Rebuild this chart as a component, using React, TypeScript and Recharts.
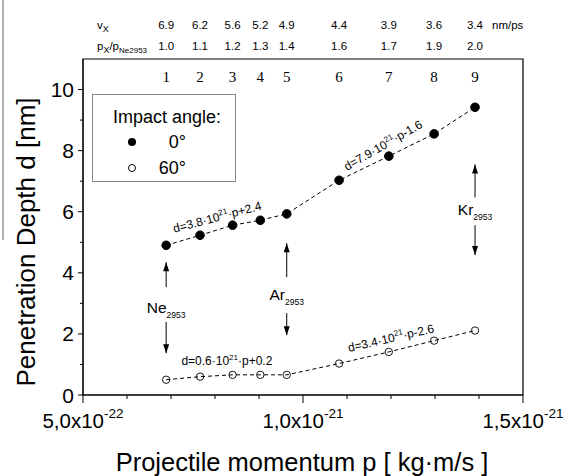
import React from 'react';
import {
  LineChart,
  Line,
  XAxis,
  YAxis,
  ReferenceArea,
  ReferenceDot,
  ReferenceLine,
  Legend,
} from 'recharts';

const SANS = '"Liberation Sans", Arial, sans-serif';
const SERIF = '"Liberation Serif", "Times New Roman", serif';

// measured points (momentum in kg·m/s, depth in nm)
const momentum = [6.89e-22, 7.66e-22, 8.4e-22, 9.03e-22, 9.63e-22, 1.082e-21, 1.195e-21, 1.298e-21, 1.391e-21];
const depth0 = [4.9, 5.23, 5.56, 5.72, 5.93, 7.03, 7.82, 8.55, 9.42];
const depth60 = [0.5, 0.6, 0.66, 0.66, 0.66, 1.03, 1.41, 1.78, 2.11];

// header rows above the plot
const indexLabels = ['1', '2', '3', '4', '5', '6', '7', '8', '9'];
const velocity = ['6.9', '6.2', '5.6', '5.2', '4.9', '4.4', '3.9', '3.6', '3.4'];
const momentumRatio = ['1.0', '1.1', '1.2', '1.3', '1.4', '1.6', '1.7', '1.9', '2.0'];

// axes
const xTicks = [5e-22, 6e-22, 7e-22, 8e-22, 9e-22, 1e-21, 1.1e-21, 1.2e-21, 1.3e-21, 1.4e-21, 1.5e-21];
const xMajorMantissa = ['5,0x10', '1,0x10', '1,5x10'];
const xMajorExponent = ['-22', '-21', '-21'];
const yTicks = [0, 1, 2, 3, 4, 5, 6, 7, 8, 9, 10];
const yMax = 11;

// legend
const legendTitle = 'Impact angle:';
const legendItems = ['0°', '60°'];

// cluster annotations
const ions = ['Ne', 'Ar', 'Kr'];
const ionSize = '2953';
const ionMomentum = [6.89e-22, 9.63e-22, 1.391e-21];
const ionLabelDepth = [2.84, 3.27, 6.05];
const ionUpTip = [4.35, 4.97, 7.55];
const ionUpTail = [3.53, 3.86, 6.47];
const ionDownTail = [2.39, 2.68, 5.56];
const ionDownTip = [1.37, 1.96, 4.58];

// fit equations
const eqSlope = ['3.8', '7.9', '0.6', '3.4'];
const eqOffset = ['+2.4', '-1.6', '+0.2', '-2.6'];
const eqMomentum = [8.05e-22, 1.182e-21, 8.27e-22, 1.2e-21];
const eqDepth = [5.82, 8.17, 1.11, 1.86];
const eqAngle = [-15, -30, 0, -13];

const data0 = momentum.map((p, i) => ({ p, d: depth0[i] }));
const data60 = momentum.map((p, i) => ({ p, d: depth60[i] }));

const BottomTick = (props: any) => {
  const { x, y, index } = props;
  const major = index % 5 === 0;
  const k = index / 5;
  return (
    <g>
      <line x1={x} x2={x} y1={y} y2={y + (major ? 8 : 4)} stroke="#000" strokeWidth={1} />
      {major && (
        <text x={x} y={y + 33} textAnchor="middle" fontFamily={SANS} fontSize={20.5} fill="#000">
          <tspan>{xMajorMantissa[k]}</tspan>
          <tspan dy={-10} fontSize={13.5}>{xMajorExponent[k]}</tspan>
        </text>
      )}
    </g>
  );
};

const LeftTick = (props: any) => {
  const { x, y, payload } = props;
  const major = payload.value % 2 === 0;
  return (
    <g>
      <line x1={x} x2={x - (major ? 5 : 3)} y1={y} y2={y} stroke="#000" strokeWidth={1} />
      {major && (
        <text x={x - 9} y={y + 7.5} textAnchor="end" fontFamily={SANS} fontSize={21} fill="#000">
          {payload.value}
        </text>
      )}
    </g>
  );
};

// header labels above each cluster column, anchored at the top edge of the plot
const headerShape = (i: number) => (props: any) => {
  const { cx, cy } = props;
  return (
    <g fill="#000">
      <text x={cx} y={cy - 30} textAnchor="middle" fontFamily={SANS} fontSize={11.5}>{velocity[i]}</text>
      <text x={cx} y={cy - 9} textAnchor="middle" fontFamily={SANS} fontSize={11.5}>{momentumRatio[i]}</text>
      <text x={cx} y={cy + 23} textAnchor="middle" fontFamily={SERIF} fontSize={15}>{indexLabels[i]}</text>
    </g>
  );
};

const LegendBox = () => (
  <svg width={144} height={88} style={{ display: 'block' }}>
    <rect x={0.5} y={0.5} width={143} height={87} fill="#fff" stroke="#888" />
    <text x={21} y={29} fontFamily={SANS} fontSize={18} fill="#000">{legendTitle}</text>
    <circle cx={40} cy={48} r={4} fill="#000" />
    <text x={94} y={54} textAnchor="end" fontFamily={SANS} fontSize={18} fill="#000">{legendItems[0]}</text>
    <circle cx={40} cy={74} r={3.5} fill="#fff" stroke="#000" />
    <text x={94} y={80} textAnchor="end" fontFamily={SANS} fontSize={18} fill="#000">{legendItems[1]}</text>
  </svg>
);

const ionLabelShape = (i: number) => (props: any) => (
  <text x={props.cx} y={props.cy + 5} textAnchor="middle" fontFamily={SANS} fontSize={15.5} fill="#000">
    <tspan>{ions[i]}</tspan>
    <tspan dy={5} fontSize={8.5}>{ionSize}</tspan>
  </text>
);

const arrowHead = (up: boolean) => (props: any) => {
  const { cx, cy } = props;
  const s = up ? 1 : -1;
  return <polygon points={`${cx},${cy} ${cx - 3},${cy + 9 * s} ${cx + 3},${cy + 9 * s}`} fill="#000" />;
};

const eqShape = (i: number) => (props: any) => {
  const { cx, cy } = props;
  return (
    <text
      x={cx}
      y={cy + 4}
      textAnchor="middle"
      fontFamily={SANS}
      fontSize={12}
      fill="#000"
      transform={`rotate(${eqAngle[i]}, ${cx}, ${cy})`}
    >
      <tspan>{`d=${eqSlope[i]}·10`}</tspan>
      <tspan dy={-5} fontSize={8}>21</tspan>
      <tspan dy={5}>{`·p${eqOffset[i]}`}</tspan>
    </text>
  );
};

export default function App() {
  return (
    <div style={{ position: 'absolute', left: 0, top: 0, width: 568, height: 476, background: '#fff' }}>
      <LineChart width={568} height={476} margin={{ top: 59, right: 45, left: 0, bottom: 0 }}>
        <XAxis
          dataKey="p"
          type="number"
          domain={[5e-22, 1.5e-21]}
          ticks={xTicks}
          interval={0}
          allowDataOverflow
          height={81}
          tickSize={0}
          tickMargin={0}
          tickLine={false}
          axisLine={{ stroke: '#000' }}
          tick={BottomTick}
        />
        <YAxis
          type="number"
          domain={[0, yMax]}
          ticks={yTicks}
          interval={0}
          allowDataOverflow
          width={83}
          tickSize={0}
          tickMargin={0}
          tickLine={false}
          axisLine={{ stroke: '#000' }}
          tick={LeftTick}
        />
        <ReferenceArea x1={5e-22} x2={1.5e-21} y1={0} y2={yMax} fill="none" stroke="#000" strokeWidth={1.2} />
        <Legend
          layout="vertical"
          align="center"
          verticalAlign="middle"
          content={LegendBox}
          wrapperStyle={{ left: 92, top: 94, width: 144, height: 88 }}
        />
        <Line
          data={data0}
          dataKey="d"
          type="linear"
          stroke="#000"
          strokeWidth={1}
          strokeDasharray="4 3"
          dot={{ r: 4.3, fill: '#000', stroke: '#000', strokeWidth: 1, strokeDasharray: '' }}
          isAnimationActive={false}
        />
        <Line
          data={data60}
          dataKey="d"
          type="linear"
          stroke="#000"
          strokeWidth={1}
          strokeDasharray="4 3"
          dot={{ r: 3.7, fill: 'none', stroke: '#000', strokeWidth: 0.9, strokeDasharray: '' }}
          isAnimationActive={false}
        />
        {momentum.map((p, i) => (
          <ReferenceDot key={`hdr-${i}`} x={p} y={yMax} ifOverflow="visible" shape={headerShape(i)} />
        ))}
        {ions.map((name, i) => (
          <ReferenceLine
            key={`up-${name}`}
            segment={[{ x: ionMomentum[i], y: ionUpTail[i] }, { x: ionMomentum[i], y: ionUpTip[i] }]}
            stroke="#000"
            strokeWidth={1}
          />
        ))}
        {ions.map((name, i) => (
          <ReferenceLine
            key={`down-${name}`}
            segment={[{ x: ionMomentum[i], y: ionDownTail[i] }, { x: ionMomentum[i], y: ionDownTip[i] }]}
            stroke="#000"
            strokeWidth={1}
          />
        ))}
        {ions.map((name, i) => (
          <ReferenceDot key={`uh-${name}`} x={ionMomentum[i]} y={ionUpTip[i]} shape={arrowHead(true)} />
        ))}
        {ions.map((name, i) => (
          <ReferenceDot key={`dh-${name}`} x={ionMomentum[i]} y={ionDownTip[i]} shape={arrowHead(false)} />
        ))}
        {ions.map((name, i) => (
          <ReferenceDot key={`lbl-${name}`} x={ionMomentum[i]} y={ionLabelDepth[i]} shape={ionLabelShape(i)} />
        ))}
        {eqSlope.map((s, i) => (
          <ReferenceDot key={`eq-${i}`} x={eqMomentum[i]} y={eqDepth[i]} shape={eqShape(i)} />
        ))}
        <g fill="#000" fontFamily={SANS}>
          <text x={97} y={29} fontSize={11.5}>
            v<tspan dy={3} fontSize={9}>X</tspan>
          </text>
          <text x={97} y={50} fontSize={11.5}>
            p<tspan dy={3} fontSize={9}>X</tspan>
            <tspan dy={-3}>/p</tspan>
            <tspan dy={3} fontSize={8}>Ne2953</tspan>
          </text>
          <text x={492} y={29} fontSize={11.5}>nm/ps</text>
          <text x={302} y={471} textAnchor="middle" fontSize={25.5}>
            Projectile momentum p [ kg·m/s ]
          </text>
          <text x={35} y={242} textAnchor="middle" fontSize={26} transform="rotate(-90, 35, 242)">
            Penetration Depth d [nm]
          </text>
        </g>
        <line x1={3} x2={3} y1={0} y2={240} stroke="#999" strokeWidth={1.5} />
      </LineChart>
    </div>
  );
}
